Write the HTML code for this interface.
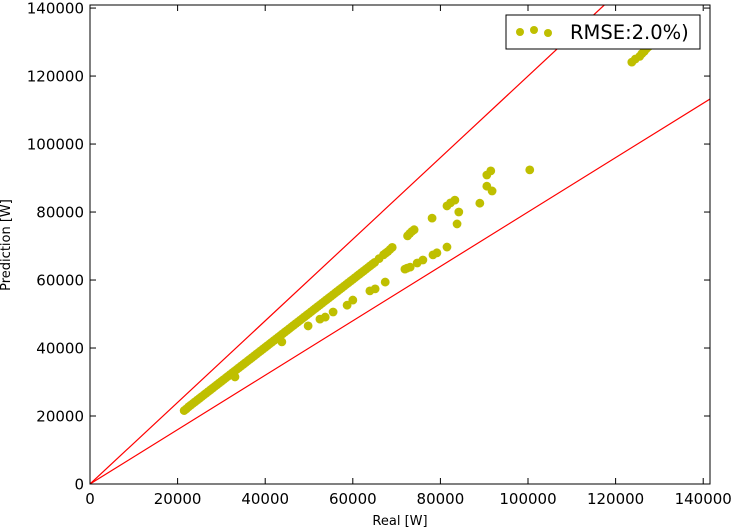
<!DOCTYPE html>
<html><head><meta charset="utf-8"><style>
body{margin:0;background:#fff}
svg{display:block;font-family:"DejaVu Sans","Liberation Sans",sans-serif}
</style></head><body>
<svg id="c" width="736" height="529"></svg>
<script>
const xTicks=[0,20000,40000,60000,80000,100000,120000,140000];
const yTicks=[0,20000,40000,60000,80000,100000,120000,140000];
const mainReal=[21500,22000,22500,23000,23500,24000,24500,25000,25500,26000,26500,27000,27500,28000,28500,29000,29500,30000,30500,31000,31500,32000,32500,33000,33500,34000,34500,35000,35500,36000,36500,37000,37500,38000,38500,39000,39500,40000,40500,41000,41500,42000,42500,43000,43500,44000,44500,45000,45500,46000,46500,47000,47500,48000,48500,49000,49500,50000,50500,51000,51500,52000,52500,53000,53500,54000,54500,55000,55500,56000,56500,57000,57500,58000,58500,59000,59500,60000,60500,61000,61500,62000,62500,63000,63500,64000,64500,65000,66000,67000,67500,68000,68500,69000];
const mainPred=[21600,22100,22700,23200,23700,24200,24700,25200,25700,26200,26700,27200,27700,28200,28700,29200,29700,30200,30700,31200,31700,32200,32700,33200,33700,34200,34700,35200,35700,36200,36700,37200,37700,38200,38700,39200,39700,40200,40700,41200,41700,42200,42700,43200,43700,44200,44700,45200,45700,46200,46700,47200,47700,48200,48700,49200,49700,50200,50700,51200,51700,52200,52700,53200,53700,54200,54700,55200,55700,56200,56700,57200,57700,58200,58700,59200,59700,60200,60700,61200,61700,62200,62700,63200,63700,64200,64700,65200,66300,67400,67900,68400,69000,69600];
const outReal=[33100,43800,49800,52500,53700,55500,58700,60000,63900,65100,67400,71900,72400,73100,74700,76000,78300,79200,81500,72500,73000,73500,74000,78100,81500,82300,83300,84200,83800,89000,90600,91800,90600,91500,100400,123700,124500,125500,126000,126500,127000,127500];
const outPred=[31500,41800,46500,48500,49100,50600,52600,54100,56800,57400,59400,63200,63500,63800,65000,65900,67400,68000,69700,73000,73700,74300,74800,78200,81800,82700,83500,80000,76500,82600,87600,86200,90900,92100,92400,124100,125000,125800,126600,127200,128000,128600];
const X0=90,X1=710,Y0=484,Y1=5,XMAX=141550,YMAX=140900;
const sx=v=>X0+v/XMAX*(X1-X0), sy=v=>Y0-v/YMAX*(Y0-Y1);
const svg=document.getElementById('c'),NS='http://www.w3.org/2000/svg';
function mk(t,a,p){const e=document.createElementNS(NS,t);for(const k in a)e.setAttribute(k,a[k]);(p||svg).appendChild(e);return e;}
const clip=mk('clipPath',{id:'cl'});mk('rect',{x:X0,y:Y1,width:X1-X0,height:Y0-Y1},clip);
const g=mk('g',{'clip-path':'url(#cl)'});
let l=mk('line',{x1:sx(0),y1:sy(0),x2:sx(YMAX/1.2),y2:sy(YMAX),stroke:'#f00','stroke-width':1.2},g);

l=mk('line',{x1:sx(0),y1:sy(0),x2:sx(XMAX),y2:sy(XMAX*0.8),stroke:'#f00','stroke-width':1.2},g);

const pts=mk('g',{fill:'#bfbf00'},g);

const allR=mainReal.concat(outReal),allP=mainPred.concat(outPred);
allR.forEach((r,i)=>{const c=mk('circle',{cx:sx(r),cy:sy(allP[i]),r:4.4},pts);

});
const fr=mk('rect',{x:X0,y:Y1,width:X1-X0,height:Y0-Y1,fill:'none',stroke:'#000','stroke-width':1});

xTicks.forEach(v=>{const x=sx(v);
mk('line',{x1:x,y1:Y0,x2:x,y2:Y0-6,stroke:'#000'});mk('line',{x1:x,y1:Y1,x2:x,y2:Y1+6,stroke:'#000'});
const t=mk('text',{x:x,y:Y0+20,'font-size':15,'text-anchor':'middle'});t.textContent=v;
});
yTicks.forEach(v=>{const y=sy(v);
mk('line',{x1:X0,y1:y,x2:X0+6,y2:y,stroke:'#000'});mk('line',{x1:X1,y1:y,x2:X1-6,y2:y,stroke:'#000'});
const t=mk('text',{x:X0-6,y:y+5.5,'font-size':15,'text-anchor':'end'});t.textContent=v;
});
let t=mk('text',{x:400,y:525,'font-size':13,'text-anchor':'middle'});t.textContent='Real [W]';

t=mk('text',{x:10,y:245,'font-size':13,'text-anchor':'middle',transform:'rotate(-90 10 245)'});t.textContent='Prediction [W]';

const lg=mk('g',{});
mk('rect',{x:506,y:15,width:194,height:34,fill:'#fff',stroke:'#000'},lg);
[520,534,548].forEach((x,i)=>mk('circle',{cx:x,cy:[32,30,33][i],r:4,fill:'#bfbf00'},lg));
t=mk('text',{x:570,y:39,'font-size':19.5},lg);t.textContent='RMSE:2.0%)';

</script>
</body></html>
